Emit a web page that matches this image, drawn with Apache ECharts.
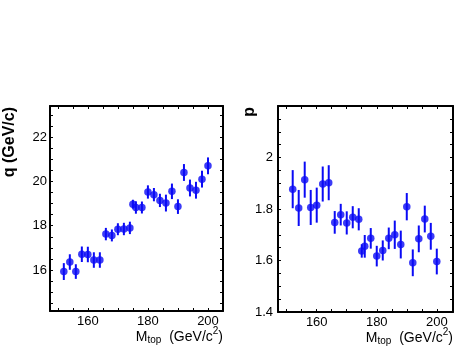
<!DOCTYPE html>
<html>
<head>
<meta charset="utf-8">
<script src="https://cdn.jsdelivr.net/npm/echarts@6/dist/echarts.min.js"></script>
<style>
  html, body { margin: 0; padding: 0; background: #fff; }
  #main { width: 472px; height: 354px; }
</style>
</head>
<body>
<div id="main"></div>
<script>
var mtop = [152, 154, 156, 158, 160, 162, 164, 166, 168, 170, 172, 174, 175, 176, 178, 180, 182, 184, 186, 188, 190, 192, 194, 196, 198, 200];
var qVal = [15.93, 16.36, 15.93, 16.71, 16.7, 16.45, 16.45, 17.62, 17.56, 17.84, 17.85, 17.9, 18.97, 18.82, 18.82, 19.52, 19.4, 19.14, 19.02, 19.55, 18.86, 20.4, 19.7, 19.6, 20.1, 20.7];
var qErr = [0.38, 0.35, 0.33, 0.35, 0.35, 0.35, 0.35, 0.28, 0.27, 0.27, 0.28, 0.28, 0.2, 0.28, 0.27, 0.3, 0.3, 0.3, 0.38, 0.35, 0.33, 0.38, 0.38, 0.38, 0.38, 0.38];
var pVal = [1.877, 1.804, 1.914, 1.806, 1.815, 1.897, 1.902, 1.748, 1.778, 1.746, 1.768, 1.76, 1.637, 1.655, 1.686, 1.617, 1.639, 1.686, 1.70, 1.662, 1.809, 1.591, 1.684, 1.761, 1.694, 1.596];
var pErr = [0.074, 0.07, 0.07, 0.068, 0.068, 0.068, 0.068, 0.044, 0.042, 0.045, 0.043, 0.043, 0.026, 0.044, 0.04, 0.04, 0.039, 0.042, 0.055, 0.054, 0.053, 0.052, 0.052, 0.052, 0.052, 0.05];

var xLabels = [160, 180, 200];
var xTicks = [150, 155, 160, 165, 170, 175, 180, 185, 190, 195, 200, 205];
var qLabels = [16, 18, 20, 22];
var qTicks = [14.5, 15, 15.5, 16, 16.5, 17, 17.5, 18, 18.5, 19, 19.5, 20, 20.5, 21, 21.5, 22, 22.5, 23];
var pLabels = [1.4, 1.6, 1.8, 2];
var pTicks = [1.45, 1.5, 1.55, 1.6, 1.65, 1.7, 1.75, 1.8, 1.85, 1.9, 1.95, 2, 2.05, 2.1, 2.15];

var blue = '#0a0af5';
var font = 'Liberation Sans, Arial, Helvetica, sans-serif';

var dom = document.getElementById('main');
var myChart = echarts.init(dom, null, { renderer: 'canvas' });

function errBars(params, api) {
  var x = api.value(0), y = api.value(1), e = api.value(2);
  var a = api.coord([x, y - e]);
  var b = api.coord([x, y + e]);
  return {
    type: 'line',
    shape: { x1: a[0], y1: a[1], x2: b[0], y2: b[1] },
    style: { stroke: blue, lineWidth: 2 }
  };
}

function xAx(grid, min, max, pos) {
  var bottom = pos === 'bottom';
  return {
    type: 'value', gridIndex: grid, position: pos, min: min, max: max,
    axisLine: { show: true, onZero: false, lineStyle: { color: '#000', width: 2 } },
    axisTick: { show: true, inside: true, length: 3, customValues: xTicks, lineStyle: { color: '#000' } },
    axisLabel: { show: bottom, customValues: xLabels, margin: 4, color: '#000', fontSize: 13, fontFamily: font },
    splitLine: { show: false }
  };
}

function yAx(grid, min, max, pos, labels, ticks, margin) {
  var left = pos === 'left';
  return {
    type: 'value', gridIndex: grid, position: pos, min: min, max: max,
    axisLine: { show: true, onZero: false, lineStyle: { color: '#000', width: 2 } },
    axisTick: { show: true, inside: true, length: 3, customValues: ticks, lineStyle: { color: '#000' } },
    axisLabel: { show: left, customValues: labels, margin: margin, color: '#000', fontSize: 13, fontFamily: font },
    splitLine: { show: false }
  };
}

var xTitleRich = {
  a: { fontSize: 14, fontFamily: font, lineHeight: 16, verticalAlign: 'middle' },
  s: { fontSize: 10, fontFamily: font, padding: [7, 0, 0, 0], verticalAlign: 'middle' },
  u: { fontSize: 10, fontFamily: font, padding: [0, 0, 12, 0], verticalAlign: 'middle' }
};
var xTitle = '{a|M}{s|top}{a|\u00a0\u00a0(GeV/c}{u|2}{a|)}';

var option = {
  animation: false,
  grid: [
    { left: 50, top: 106, width: 173, height: 205 },
    { left: 278, top: 106, width: 175, height: 206 }
  ],
  xAxis: [
    xAx(0, 147.4, 205, 'bottom'),
    xAx(0, 147.4, 205, 'top'),
    xAx(1, 147.1, 205.4, 'bottom'),
    xAx(1, 147.1, 205.4, 'top')
  ],
  yAxis: [
    yAx(0, 14.15, 23.4, 'left', qLabels, qTicks, 3),
    yAx(0, 14.15, 23.4, 'right', qLabels, qTicks, 3),
    yAx(1, 1.4, 2.2, 'left', pLabels, pTicks, 5),
    yAx(1, 1.4, 2.2, 'right', pLabels, pTicks, 5)
  ],
  series: [
    {
      type: 'custom', xAxisIndex: 0, yAxisIndex: 0, renderItem: errBars,
      data: mtop.map(function (x, i) { return [x, qVal[i], qErr[i]]; }), z: 2
    },
    {
      type: 'scatter', xAxisIndex: 0, yAxisIndex: 0, symbol: 'circle', symbolSize: 7.5,
      itemStyle: { color: blue }, data: mtop.map(function (x, i) { return [x, qVal[i]]; }), z: 3
    },
    {
      type: 'custom', xAxisIndex: 2, yAxisIndex: 2, renderItem: errBars,
      data: mtop.map(function (x, i) { return [x, pVal[i], pErr[i]]; }), z: 2
    },
    {
      type: 'scatter', xAxisIndex: 2, yAxisIndex: 2, symbol: 'circle', symbolSize: 7.5,
      itemStyle: { color: blue }, data: mtop.map(function (x, i) { return [x, pVal[i]]; }), z: 3
    }
  ],
  graphic: [
    {
      type: 'text', x: 10, y: 107, rotation: Math.PI / 2,
      style: { text: 'q (GeV/c)', align: 'right', verticalAlign: 'middle', fill: '#000', font: 'bold 16px ' + font }
    },
    {
      type: 'text', x: 250, y: 107, rotation: Math.PI / 2,
      style: { text: 'p', align: 'right', verticalAlign: 'middle', fill: '#000', font: 'bold 16px ' + font }
    },
    {
      type: 'text', x: 223, y: 337,
      style: { text: xTitle, align: 'right', verticalAlign: 'middle', fill: '#000', rich: xTitleRich }
    },
    {
      type: 'text', x: 453, y: 338,
      style: { text: xTitle, align: 'right', verticalAlign: 'middle', fill: '#000', rich: xTitleRich }
    }
  ]
};

myChart.setOption(option);
window.addEventListener('resize', myChart.resize);
</script>
</body>
</html>
